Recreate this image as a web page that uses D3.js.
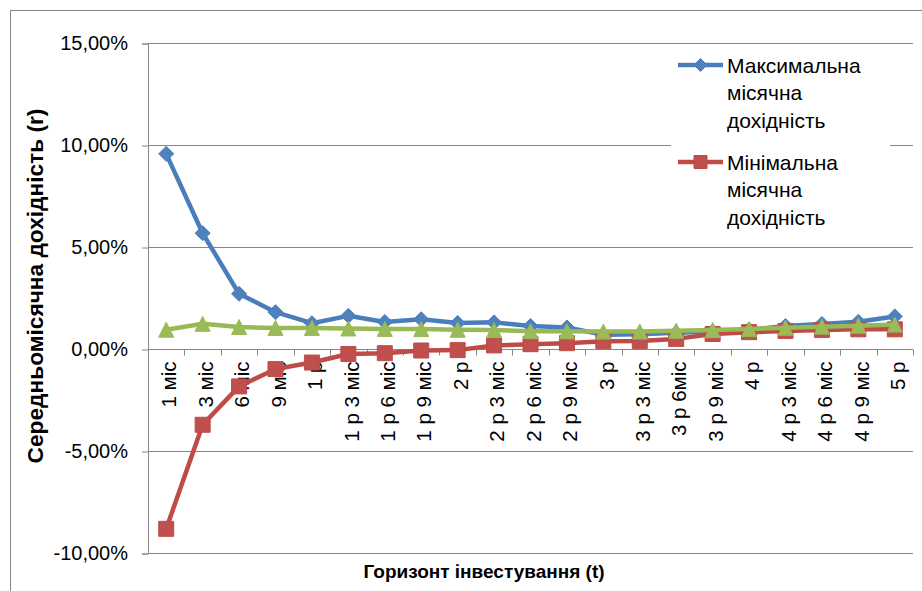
<!DOCTYPE html>
<html>
<head>
<meta charset="utf-8">
<script src="https://cdn.jsdelivr.net/npm/d3@7"></script>
<style>
  body { margin: 0; background: #fff; }
  svg { display: block; }
  text { font-family: "Liberation Sans", Arial, sans-serif; fill: #000; }
</style>
</head>
<body>
<svg id="chart" width="922" height="591"></svg>
<script>
// Investment horizons
const categories = ["1 міс", "3 міс", "6 міс", "9 міс", "1 р", "1 р 3 міс", "1 р 6 міс", "1 р 9 міс",
  "2 р", "2 р 3 міс", "2 р 6 міс", "2 р 9 міс", "3 р", "3 р 3 міс", "3 р 6міс", "3 р 9 міс",
  "4 р", "4 р 3 міс", "4 р 6 міс", "4 р 9 міс", "5 р"];

// Average monthly return, by horizon (fractions)
const maxReturn = [0.0959, 0.0570, 0.0273, 0.0183, 0.0129, 0.0165, 0.0135, 0.0148, 0.0130, 0.0133, 0.0115,
  0.0108, 0.0072, 0.0075, 0.0082, 0.0088, 0.0097, 0.0115, 0.0125, 0.0136, 0.0162];
const minReturn = [-0.0879, -0.0369, -0.0181, -0.0096, -0.0064, -0.0022, -0.0018, -0.0005, -0.0003, 0.0020, 0.0026,
  0.0031, 0.0041, 0.0042, 0.0052, 0.0076, 0.0085, 0.0091, 0.0096, 0.0099, 0.0099];
const avgReturn = [0.0097, 0.0126, 0.0110, 0.0106, 0.0106, 0.0103, 0.0101, 0.0100, 0.0097, 0.0095, 0.0090,
  0.0089, 0.0088, 0.0088, 0.0092, 0.0095, 0.0100, 0.0107, 0.0112, 0.0117, 0.0122];

const yTicks = [-0.10, -0.05, 0, 0.05, 0.10, 0.15];

const seriesNames = ["Максимальна місячна дохідність", "Мінімальна місячна дохідність"];
const yTitle = "Середньомісячна дохідність (r)";
const xTitle = "Горизонт інвестування (t)";

const locale = d3.formatLocale({ decimal: ",", thousands: " ", grouping: [3], currency: ["", ""], minus: "-" });
const pct = locale.format(".2%");

const svg = d3.select("#chart");
const plotLeft = 148, plotRight = 913, plotTop = 43.5, plotBottom = 553.5;

const x = d3.scaleBand().domain(categories).range([plotLeft, plotRight]).padding(0);
const y = d3.scaleLinear().domain([-0.10, 0.15]).range([plotBottom, plotTop]);
const cx = c => x(c) + x.bandwidth() / 2;

const gridColor = "#868686";

// chart frame
svg.append("rect")
  .attr("x", 10.5).attr("y", 10.5).attr("width", 940).attr("height", 600)
  .attr("fill", "#fff").attr("stroke", gridColor).attr("stroke-width", 1);

// horizontal gridlines
svg.append("g").selectAll("line").data(yTicks).join("line")
  .attr("x1", plotLeft).attr("x2", plotRight)
  .attr("y1", d => y(d)).attr("y2", d => y(d))
  .attr("stroke", gridColor).attr("stroke-width", 1);

// y axis
const yAxis = svg.append("g")
  .attr("transform", `translate(${plotLeft},0)`)
  .call(d3.axisLeft(y).tickValues(yTicks).tickSize(6).tickPadding(14).tickFormat(pct));
yAxis.select(".domain").attr("stroke", gridColor);
yAxis.selectAll(".tick line").attr("stroke", gridColor);
yAxis.selectAll(".tick text")
  .attr("font-family", "Liberation Sans, Arial, sans-serif")
  .attr("font-size", 20).attr("fill", "#000");

// x axis along the zero line
const y0 = y(0);
const xg = svg.append("g");
xg.append("line")
  .attr("x1", plotLeft).attr("x2", plotRight).attr("y1", y0).attr("y2", y0)
  .attr("stroke", gridColor);
const boundaries = categories.map(c => x(c)).concat([plotRight]);
xg.selectAll("line.tick").data(boundaries).join("line")
  .attr("class", "tick")
  .attr("x1", d => Math.round(d) + 0.5).attr("x2", d => Math.round(d) + 0.5)
  .attr("y1", y0).attr("y2", y0 + 6)
  .attr("stroke", gridColor);
xg.selectAll("text").data(categories).join("text")
  .attr("transform", d => `translate(${cx(d)},${y0 + 12}) rotate(-90)`)
  .attr("text-anchor", "end")
  .attr("dy", "0.5em")
  .attr("font-size", 20.5)
  .text(d => d);

// marker shapes
const diamond = { draw(ctx, size) { const r = Math.sqrt(size) / 2;
  ctx.moveTo(0, -r); ctx.lineTo(r, 0); ctx.lineTo(0, r); ctx.lineTo(-r, 0); ctx.closePath(); } };
const triangle = { draw(ctx, size) { const r = Math.sqrt(size) / 2;
  ctx.moveTo(0, -r); ctx.lineTo(r, r); ctx.lineTo(-r, r); ctx.closePath(); } };

const series = [
  { values: maxReturn, line: "#4A7EBB", fill: "#4F81BD", shape: diamond, size: 15 * 15 },
  { values: minReturn, line: "#BE4B48", fill: "#C0504D", shape: d3.symbolSquare, size: 15 * 15 },
  { values: avgReturn, line: "#98B954", fill: "#9BBB59", shape: triangle, size: 15 * 15 }
];

const lineGen = d3.line().x((d, i) => cx(categories[i])).y(d => y(d));

series.forEach(s => {
  const g = svg.append("g");
  g.append("path")
    .attr("d", lineGen(s.values))
    .attr("fill", "none").attr("stroke", s.line)
    .attr("stroke-width", 4.5).attr("stroke-linejoin", "round").attr("stroke-linecap", "round");
  g.selectAll("path.m").data(s.values).join("path")
    .attr("class", "m")
    .attr("transform", (d, i) => `translate(${cx(categories[i])},${y(d)})`)
    .attr("d", d3.symbol().type(s.shape).size(s.size)())
    .attr("fill", s.fill).attr("stroke", s.line).attr("stroke-width", 1);
});

// legend
const lg = svg.append("g");
lg.append("rect").attr("x", 671).attr("y", 48).attr("width", 219).attr("height", 190).attr("fill", "#fff");
const legendRows = [
  { s: series[0], y: 65, words: seriesNames[0].split(" ") },
  { s: series[1], y: 162, words: seriesNames[1].split(" ") }
];
legendRows.forEach(r => {
  lg.append("line").attr("x1", 678).attr("x2", 723).attr("y1", r.y).attr("y2", r.y)
    .attr("stroke", r.s.line).attr("stroke-width", 4.5);
  lg.append("path")
    .attr("transform", `translate(700.5,${r.y})`)
    .attr("d", d3.symbol().type(r.s.shape).size(r.s.size * 0.75)())
    .attr("fill", r.s.fill).attr("stroke", r.s.line);
  r.words.forEach((w, k) => {
    lg.append("text").attr("x", 727).attr("y", r.y + k * 27.5).attr("dy", "0.36em")
      .attr("font-size", 21).text(w);
  });
});

// axis titles
svg.append("text")
  .attr("transform", `translate(35,286) rotate(-90)`)
  .attr("text-anchor", "middle").attr("dy", "0.36em")
  .attr("font-size", 22.7).attr("font-weight", "bold")
  .text(yTitle);
svg.append("text")
  .attr("x", 484).attr("y", 578)
  .attr("text-anchor", "middle")
  .attr("font-size", 19).attr("font-weight", "bold")
  .text(xTitle);
</script>
</body>
</html>
